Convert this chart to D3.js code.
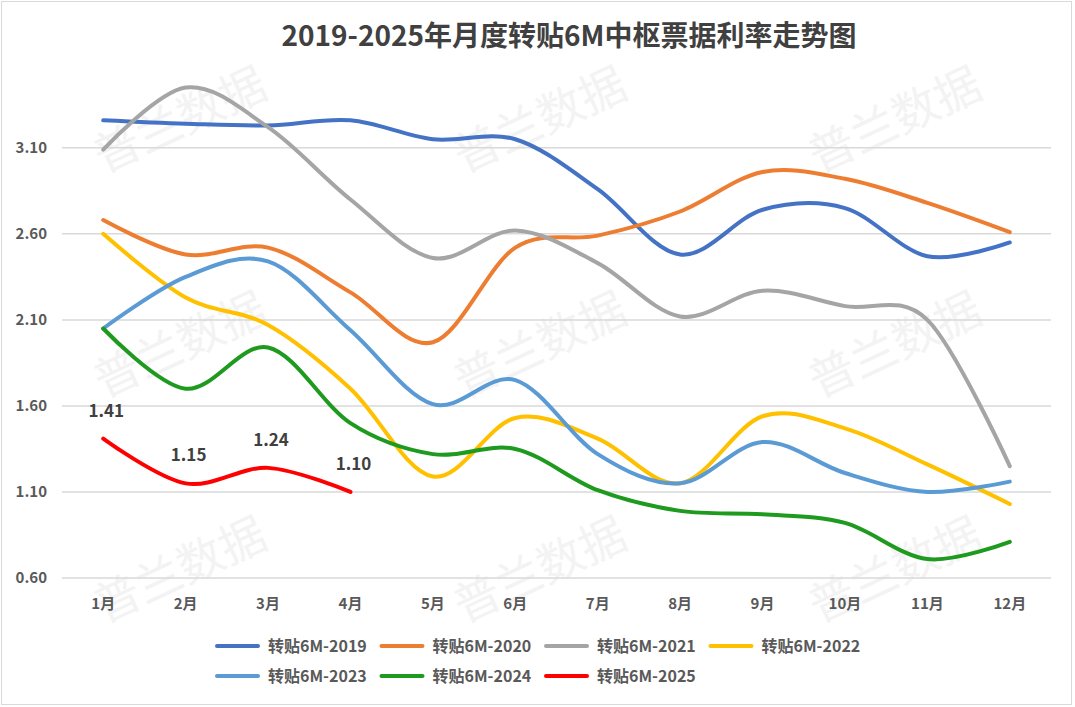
<!DOCTYPE html>
<html lang="zh">
<head>
<meta charset="utf-8">
<title>转贴6M中枢票据利率走势图</title>
<script src="https://cdn.jsdelivr.net/npm/d3@7/dist/d3.min.js"></script>
<style>
  body { margin: 0; background: #fff; }
  text { font-family: "Noto Sans CJK SC", "Noto Sans", sans-serif; }
</style>
</head>
<body>
<script>
// ---- data ----
var months = ["1月","2月","3月","4月","5月","6月","7月","8月","9月","10月","11月","12月"];
var yTicks = [0.60, 1.10, 1.60, 2.10, 2.60, 3.10];

var r2019 = [3.26, 3.24, 3.23, 3.26, 3.15, 3.15, 2.86, 2.48, 2.74, 2.75, 2.47, 2.55];
var r2020 = [2.68, 2.48, 2.52, 2.26, 1.97, 2.52, 2.59, 2.73, 2.96, 2.92, 2.78, 2.61];
var r2021 = [3.09, 3.45, 3.22, 2.80, 2.46, 2.62, 2.43, 2.12, 2.27, 2.18, 2.10, 1.25];
var r2022 = [2.60, 2.23, 2.07, 1.70, 1.19, 1.53, 1.41, 1.15, 1.54, 1.47, 1.26, 1.03];
var r2023 = [2.05, 2.35, 2.44, 2.04, 1.61, 1.75, 1.32, 1.15, 1.39, 1.21, 1.10, 1.16];
var r2024 = [2.05, 1.70, 1.94, 1.50, 1.32, 1.35, 1.11, 0.99, 0.97, 0.92, 0.71, 0.81];
var r2025 = [1.41, 1.15, 1.24, 1.10];

var seriesNames = ["转贴6M-2019","转贴6M-2020","转贴6M-2021","转贴6M-2022","转贴6M-2023","转贴6M-2024","转贴6M-2025"];
var seriesData = [r2019, r2020, r2021, r2022, r2023, r2024, r2025];
var colors = ["#4472C4","#ED7D31","#A5A5A5","#FFC000","#5B9BD5","#1E9A1E","#FF0000"];

var w = 1075, h = 707;
var plotLeft = 62, plotRight = 1051, plotTop = 79, plotBottom = 578;

var svg = d3.select("body").append("svg")
    .attr("width", w)
    .attr("height", h);

// outer frame
svg.append("rect")
    .attr("x", 1.5).attr("y", 1.5)
    .attr("width", 1070).attr("height", 703)
    .attr("fill", "#fff")
    .attr("stroke", "#d9d9d9");

// watermark
var wm = svg.append("g");
[120, 345, 570].forEach(function(cy) {
    [180, 540, 895].forEach(function(cx) {
        wm.append("text")
            .attr("transform", "translate(" + cx + "," + cy + ") rotate(-25)")
            .attr("text-anchor", "middle")
            .attr("dy", "0.35em")
            .attr("font-size", 46)
            .attr("fill", "#f3f3f3")
            .text("普兰数据");
    });
});

var x = d3.scaleBand().domain(months).range([plotLeft, plotRight]);
var y = d3.scaleLinear().domain([0.6, 3.5]).range([plotBottom, plotTop]);

// gridlines
svg.append("g")
    .selectAll("line")
    .data(yTicks)
    .enter().append("line")
    .attr("x1", plotLeft).attr("x2", plotRight)
    .attr("y1", function(d) { return y(d); })
    .attr("y2", function(d) { return y(d); })
    .attr("stroke", "#d9d9d9")
    .attr("stroke-width", 1.5);

// y axis labels
var yAxis = svg.append("g")
    .attr("transform", "translate(" + (plotLeft - 12) + ",0)")
    .call(d3.axisLeft(y).tickValues(yTicks).tickFormat(d3.format(".2f")).tickSize(0));
yAxis.select(".domain").remove();
yAxis.selectAll("text")
    .attr("font-size", 15).attr("font-weight", "bold").attr("fill", "#595959")
    .style("font-family", "'Noto Sans CJK SC', sans-serif");

// x axis labels
var xAxis = svg.append("g")
    .attr("transform", "translate(0," + (plotBottom + 17) + ")")
    .call(d3.axisBottom(x).tickSize(0));
xAxis.select(".domain").remove();
xAxis.selectAll("text")
    .attr("font-size", 15).attr("font-weight", "bold").attr("fill", "#595959")
    .style("font-family", "'Noto Sans CJK SC', sans-serif");

// lines
var line = d3.line()
    .x(function(d, i) { return x(months[i]) + x.bandwidth() / 2; })
    .y(function(d) { return y(d); })
    .curve(d3.curveCardinal.tension(0));

svg.append("g")
    .selectAll("path")
    .data(seriesData)
    .enter().append("path")
    .attr("d", line)
    .attr("fill", "none")
    .attr("stroke", function(d, i) { return colors[i]; })
    .attr("stroke-width", 4)
    .attr("stroke-linecap", "round");

// labels for 2025
svg.append("g")
    .selectAll("text")
    .data(r2025)
    .enter().append("text")
    .attr("x", function(d, i) { return x(months[i]) + x.bandwidth() / 2 + 3; })
    .attr("y", function(d) { return y(d) - 22; })
    .attr("text-anchor", "middle")
    .attr("font-size", 17).attr("font-weight", "bold").attr("fill", "#404040")
    .text(function(d) { return d3.format(".2f")(d); });

// title
svg.append("text")
    .attr("x", 569).attr("y", 46)
    .attr("text-anchor", "middle")
    .attr("font-size", 28).attr("font-weight", "bold").attr("fill", "#404040")
    .text("2019-2025年月度转贴6M中枢票据利率走势图");

// legend
var legend = svg.append("g");
var item = legend.selectAll("g")
    .data(seriesNames)
    .enter().append("g")
    .attr("transform", function(d, i) {
        return "translate(" + (217 + (i % 4) * 164.5) + "," + (646 + Math.floor(i / 4) * 30) + ")";
    });
item.append("line")
    .attr("x1", 0).attr("x2", 41)
    .attr("stroke", function(d, i) { return colors[i]; })
    .attr("stroke-width", 4)
    .attr("stroke-linecap", "round");
item.append("text")
    .attr("x", 51).attr("dy", "0.35em")
    .attr("font-size", 16).attr("font-weight", "bold").attr("fill", "#595959")
    .text(function(d) { return d; });
</script>
</body>
</html>
